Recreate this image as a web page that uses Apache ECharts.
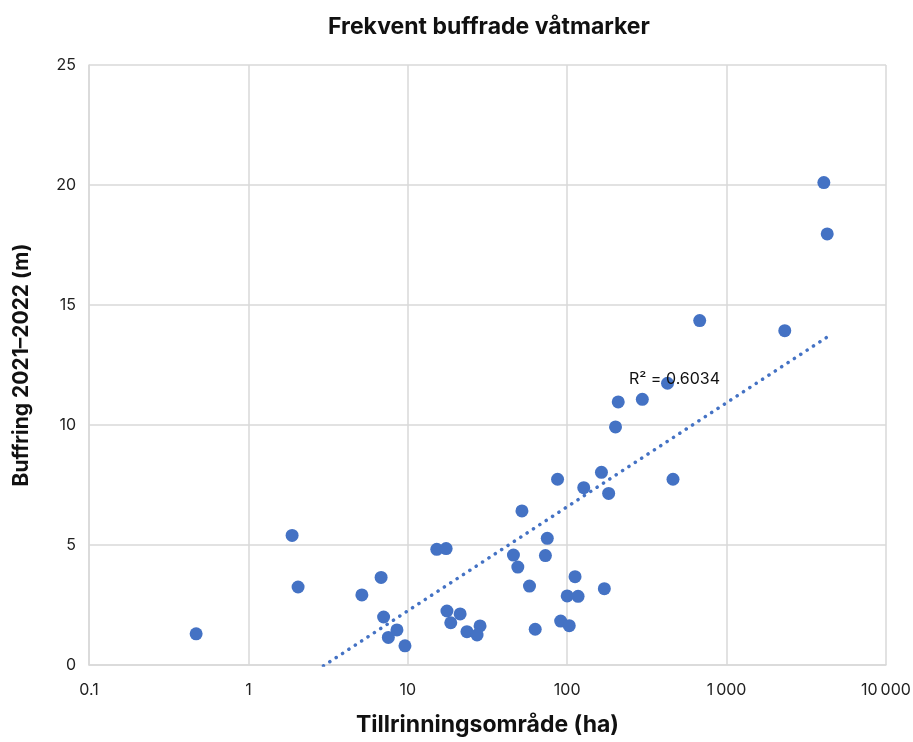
<!DOCTYPE html>
<html>
<head>
<meta charset="utf-8">
<script src="https://cdn.jsdelivr.net/npm/echarts@6/dist/echarts.min.js"></script>
<style>
  html, body { margin: 0; padding: 0; background: #fff; }
  #chart { width: 913px; height: 742px; }
</style>
</head>
<body>
<div id="chart"></div>
<script>
// Catchment area (ha) per wetland
const areaHa = [
  0.47, 1.88, 2.05, 5.15, 6.8, 7.05, 7.55, 8.55, 9.6,
  15.2, 17.4, 17.6, 21.3, 18.6, 23.5, 28.4, 27.2,
  52, 46, 49, 58, 63, 75, 73, 87, 91, 103, 100, 117, 112,
  127, 164, 182, 171, 461, 201, 209, 296, 426, 678,
  2317, 4074, 4278
];
// Buffering 2021–2022 (m) per wetland
const bufferM = [
  1.3, 5.4, 3.25, 2.92, 3.65, 2.0, 1.15, 1.46, 0.8,
  4.82, 4.85, 2.25, 2.13, 1.76, 1.39, 1.63, 1.25,
  6.42, 4.58, 4.08, 3.29, 1.49, 5.28, 4.56, 7.74, 1.83, 1.64, 2.88, 2.86, 3.68,
  7.39, 8.03, 7.15, 3.18, 7.74, 9.92, 10.96, 11.07, 11.74, 14.35,
  13.93, 20.1, 17.96
];
const xTicks = [0.1, 1, 10, 100, 1000, 10000];
const yTicks = [0, 5, 10, 15, 20, 25];
const r2Label = 'R² = 0.6034';

// Logarithmic least-squares trend: y = a·ln(x) + b
const lx = areaHa.map(v => Math.log(v));
const n = lx.length;
const mx = lx.reduce((s, v) => s + v, 0) / n;
const my = bufferM.reduce((s, v) => s + v, 0) / n;
let sxy = 0, sxx = 0;
for (let i = 0; i < n; i++) { sxy += (lx[i] - mx) * (bufferM[i] - my); sxx += (lx[i] - mx) ** 2; }
const a = sxy / sxx, b = my - a * mx;
const xMin = Math.min(...areaHa), xMax = Math.max(...areaHa);
const trend = [[xMin, a * Math.log(xMin) + b], [xMax, a * Math.log(xMax) + b]];

const points = areaHa.map((x, i) => [x, bufferM[i]]);

const fmtNum = v => {
  const r = Math.round(v * 1000) / 1000;
  if (r >= 1000) return String(Math.round(r)).replace(/\B(?=(\d{3})+(?!\d))/g, '\u2009');
  return String(r);
};

const FONT = 'Inter';
const chart = echarts.init(document.getElementById('chart'), null, { renderer: 'canvas' });
const gridColor = '#d9d9d9';
chart.setOption({
  animation: false,
  backgroundColor: '#fff',
  textStyle: { fontFamily: FONT },
  title: {
    text: 'Frekvent buffrade våtmarker',
    left: 484, top: 11, textAlign: 'center',
    textStyle: { fontFamily: FONT, fontWeight: 'bold', fontSize: 23, color: '#111' }
  },
  grid: { left: 89, right: 27, top: 65, bottom: 77, outerBoundsMode: 'none' },
  xAxis: {
    type: 'log', logBase: 10, min: xTicks[0], max: xTicks[xTicks.length - 1],
    name: 'Tillrinningsområde (ha)', nameLocation: 'middle', nameGap: 49,
    nameTextStyle: { fontFamily: FONT, fontWeight: 'bold', fontSize: 23, color: '#111' },
    axisLine: { show: true, lineStyle: { color: gridColor, width: 1.5 } },
    axisTick: { show: false },
    minorTick: { show: false },
    axisLabel: { fontSize: 16, color: '#222', margin: 17, formatter: v => fmtNum(v) },
    splitLine: { show: true, lineStyle: { color: gridColor, width: 1.5 } }
  },
  yAxis: {
    type: 'value', min: yTicks[0], max: yTicks[yTicks.length - 1], interval: 5,
    name: 'Buffring 2021–2022 (m)', nameLocation: 'middle', nameGap: 57, nameRotate: 90,
    nameTextStyle: { fontFamily: FONT, fontWeight: 'bold', fontSize: 21, color: '#111' },
    axisLine: { show: true, lineStyle: { color: gridColor, width: 1.5 } },
    axisTick: { show: false },
    axisLabel: { fontSize: 16, color: '#222', margin: 13 },
    splitLine: { show: true, lineStyle: { color: gridColor, width: 1.5 } }
  },
  series: [
    {
      type: 'line', data: trend, symbol: 'none', clip: true, z: 1,
      lineStyle: { color: '#4472c4', width: 3.5, type: [0.1, 7.5], cap: 'round' }
    },
    {
      type: 'scatter', data: points, symbol: 'circle', symbolSize: 13, z: 2,
      itemStyle: { color: '#4472c4', opacity: 1 }
    }
  ],
  graphic: [{
    type: 'text', left: 629, top: 371, z: 10,
    style: { text: r2Label, fontFamily: FONT, fontSize: 16, fill: '#111' }
  }]
});
</script>
</body>
</html>
